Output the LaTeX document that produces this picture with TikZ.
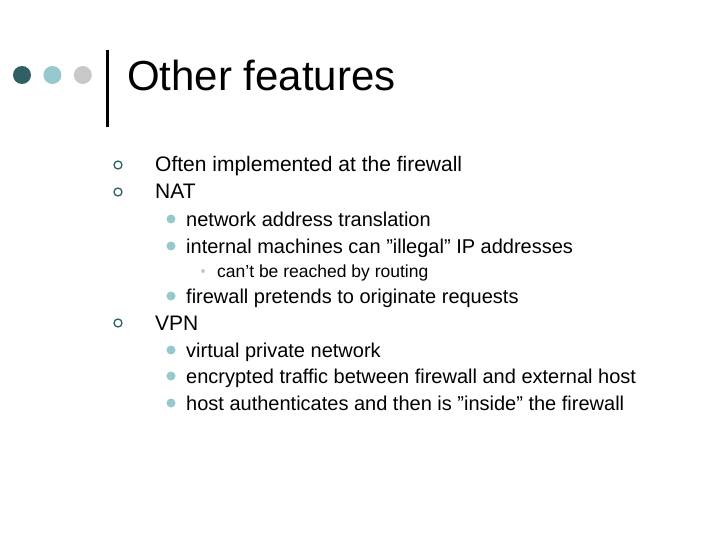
\documentclass[tikz,border=0pt]{standalone}
\usepackage{fontspec}
\setmainfont{Liberation Sans}
\usetikzlibrary{positioning}
\definecolor{darkteal}{RGB}{48,96,100}
\definecolor{lightteal}{RGB}{150,200,205}
\definecolor{lightgray}{RGB}{200,200,200}
\newcommand{\dq}{\symbol{34}}
\newcommand{\sq}{\symbol{39}}
\tikzset{
  dot/.style={circle, fill=#1, minimum size=18pt, inner sep=0pt},
  itemone/.style={anchor=base west, inner sep=0pt, font=\fontsize{21pt}{24pt}\selectfont},
  itemtwo/.style={anchor=base west, inner sep=0pt, font=\fontsize{20pt}{23pt}\selectfont},
  itemthree/.style={anchor=base west, inner sep=0pt, font=\fontsize{17.5pt}{20pt}\selectfont},
  bulletone/.style={circle, draw=darkteal, line width=1.3pt, minimum size=8pt, inner sep=0pt},
  bullettwo/.style={circle, fill=lightteal, minimum size=9pt, inner sep=0pt},
  bulletthree/.style={circle, fill=lightgray, minimum size=4pt, inner sep=0pt}
}
\begin{document}
\begin{tikzpicture}[x=1pt, y=-1pt]
  \useasboundingbox (0,0) rectangle (720,540);
  % title bar
  \node (d1) [dot=darkteal] at (22,75) {};
  \node (d2) [dot=lightteal, right=12pt of d1] {};
  \node (d3) [dot=lightgray, right=12pt of d2] {};
  \draw [line width=3pt] (107,50) -- (107,127);
  \node (title) [anchor=base west, inner sep=0pt, font=\fontsize{42pt}{48pt}\selectfont] at (127,91) {Other features};

  % items
  \node (b1) [bulletone] at (118,165) {};
  \node (t1) [itemone] at (155,172) {Often implemented at the firewall};
  \node (b2) [bulletone] at (118,192) {};
  \node (t2) [itemone] at (155,199) {NAT};
  \node (b3) [bullettwo] at (171,219) {};
  \node (t3) [itemtwo] at (186,226) {network address translation};
  \node (b4) [bullettwo] at (171,246) {};
  \node (t4) [itemtwo] at (186,253) {internal machines can \dq illegal\dq{} IP addresses};
  \node (b5) [bulletthree] at (203,271) {};
  \node (t5) [itemthree] at (217,277) {can\sq t be reached by routing};
  \node (b6) [bullettwo] at (171,296) {};
  \node (t6) [itemtwo] at (186,303) {firewall pretends to originate requests};
  \node (b7) [bulletone] at (118,323) {};
  \node (t7) [itemone] at (155,330) {VPN};
  \node (b8) [bullettwo] at (171,350) {};
  \node (t8) [itemtwo] at (186,357) {virtual private network};
  \node (b9) [bullettwo] at (171,376) {};
  \node (t9) [itemtwo] at (186,383) {encrypted traffic between firewall and external host};
  \node (b10) [bullettwo] at (171,403) {};
  \node (t10) [itemtwo] at (186,410) {host authenticates and then is \dq inside\dq{} the firewall};
\end{tikzpicture}
\end{document}
